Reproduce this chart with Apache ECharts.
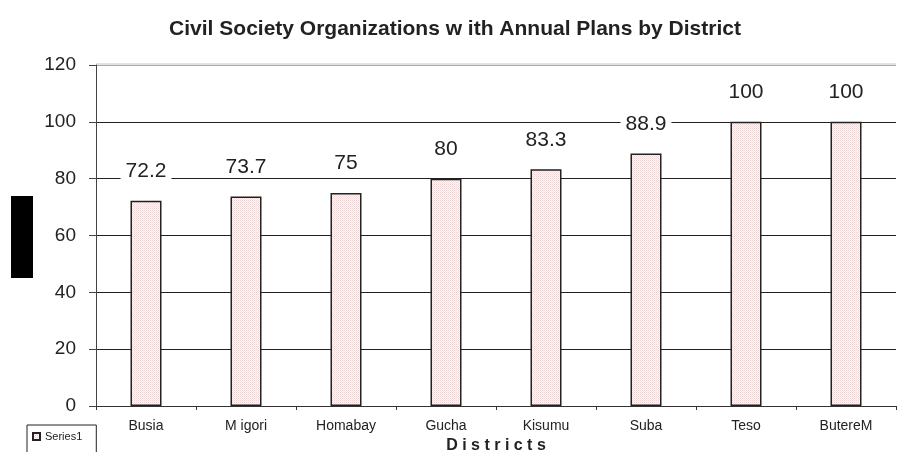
<!DOCTYPE html>
<html>
<head>
<meta charset="utf-8">
<script src="https://cdn.jsdelivr.net/npm/echarts@6/dist/echarts.min.js"></script>
<style>
html,body{margin:0;padding:0;background:#fff;}
#chart{width:900px;height:452px;}
</style>
</head>
<body>
<div id="chart"></div>
<script>
const districts = ['Busia', 'M igori', 'Homabay', 'Gucha', 'Kisumu', 'Suba', 'Teso', 'ButereM'];
const percentWithPlans = [72.2, 73.7, 75, 80, 83.3, 88.9, 100, 100];
const yTicks = [0, 20, 40, 60, 80, 100, 120];

// dotted pink fill for the bars
function dotPattern() {
  const c = document.createElement('canvas');
  c.width = 2; c.height = 2;
  const g = c.getContext('2d');
  g.fillStyle = '#fdf9f9';
  g.fillRect(0, 0, 2, 2);
  g.fillStyle = '#ecd3d4';
  g.fillRect(0, 0, 1, 1);
  g.fillStyle = '#f3e2e3';
  g.fillRect(1, 1, 1, 1);
  return c;
}

const FONT = 'Liberation Sans, Arial';

const chart = echarts.init(document.getElementById('chart'), null, {renderer: 'canvas'});
chart.setOption({
  animation: false,
  backgroundColor: '#fff',
  title: {
    text: 'Civil Society Organizations w ith Annual Plans by District',
    left: 450, top: 14, textAlign: 'center',
    textStyle: {fontFamily: FONT, fontWeight: 'bold', fontSize: 21, color: '#222'}
  },
  grid: {left: 96, right: 4, top: 65, bottom: 46, outerBoundsMode: 'none', containLabel: false},
  legend: {
    data: ['Series1'],
    icon: 'rect',
    left: 27, top: 425,
    padding: [6, 14, 12, 5],
    borderColor: '#222', borderWidth: 1, borderRadius: 0,
    itemWidth: 7, itemHeight: 7, itemGap: 4,
    textStyle: {fontFamily: FONT, fontSize: 11, color: '#222'}
  },
  xAxis: {
    type: 'category',
    data: districts,
    name: 'D i s t r i c t s',
    nameLocation: 'middle',
    nameGap: 30,
    nameTextStyle: {fontFamily: FONT, fontWeight: 'bold', fontSize: 16, color: '#222'},
    axisLine: {lineStyle: {color: '#333', width: 1}},
    axisTick: {show: true, inside: false, length: 4, lineStyle: {color: '#333'}},
    axisLabel: {fontFamily: FONT, fontSize: 14, color: '#222', margin: 13}
  },
  yAxis: {
    type: 'value',
    min: 0, max: 120, interval: 20,
    axisLine: {show: true, lineStyle: {color: '#444', width: 1}},
    axisTick: {show: true, length: 7, lineStyle: {color: '#444'}},
    axisLabel: {
      fontFamily: FONT, fontSize: 19, color: '#222', margin: 20,
      formatter: v => yTicks.includes(v) ? String(v) : ''
    },
    splitLine: {show: true, lineStyle: {color: ['#222', '#222', '#222', '#222', '#222', '#222', '#aaa'], width: 1}}
  },
  graphic: [
    {type: 'rect', shape: {x: 11, y: 196, width: 22, height: 82}, style: {fill: '#000'}},
    {type: 'line', shape: {x1: 96, y1: 64, x2: 896, y2: 64}, style: {stroke: '#c4c4c4', lineWidth: 1}}
  ],
  series: [{
    name: 'Series1',
    type: 'bar',
    data: percentWithPlans,
    barWidth: 31,
    itemStyle: {
      color: {image: dotPattern(), repeat: 'repeat'},
      borderColor: '#222', borderWidth: 1.5
    },
    label: {
      show: true, position: 'top', distance: 19,
      fontFamily: FONT, fontSize: 21, color: '#222',
      backgroundColor: '#fff', padding: [0, 5]
    }
  }]
});
</script>
</body>
</html>
